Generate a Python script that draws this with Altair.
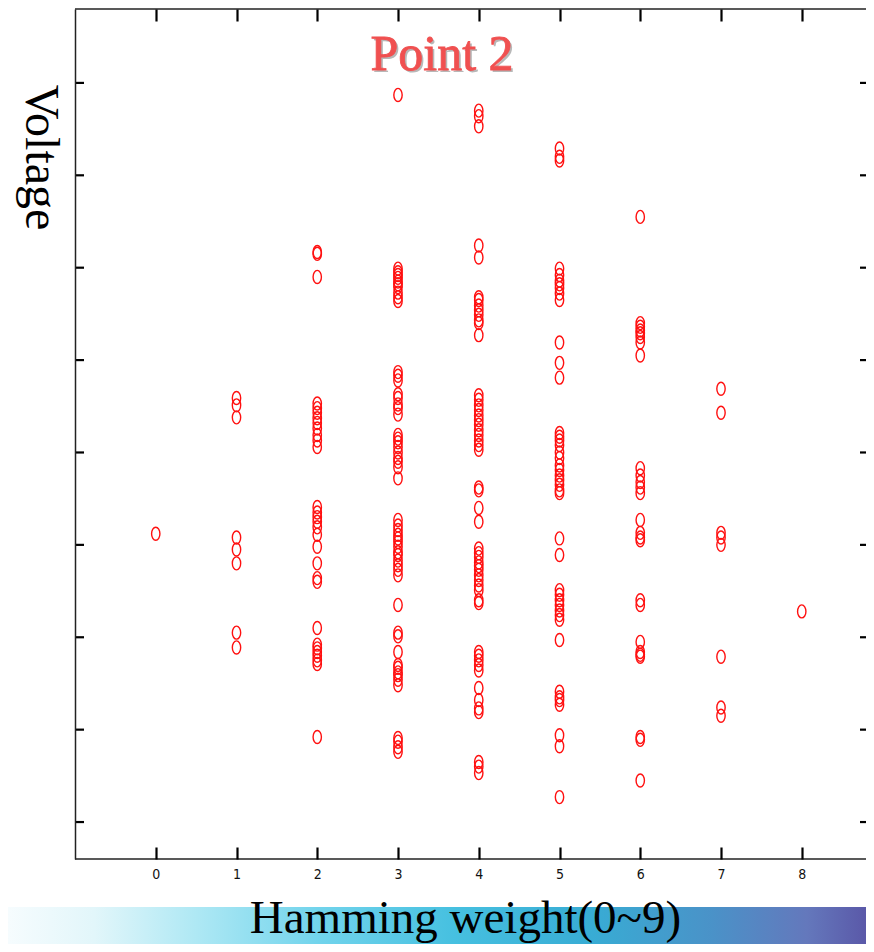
import altair as alt
import pandas as pd

# ---- data ----
title_text = ["Point 2"]
x_title = "Hamming weight(0~9)"
y_title = "Voltage"

x_ticks = [0, 1, 2, 3, 4, 5, 6, 7, 8]
y_ticks = [1, 2, 3, 4, 5, 6, 7, 8, 9]

v0 = [4.12]
v1 = [5.59, 5.51, 5.38, 4.08, 3.95, 3.80, 3.05, 2.89]
v2 = [7.17, 7.15, 6.90, 5.53, 5.48, 5.43, 5.37, 5.32, 5.26, 5.19, 5.13, 5.06,
      4.41, 4.35, 4.30, 4.25, 4.19, 4.11, 3.98, 3.80, 3.64, 3.60,
      3.10, 2.92, 2.88, 2.84, 2.80, 2.75, 2.71, 1.92]
v3 = [8.87, 6.99, 6.95, 6.92, 6.89, 6.85, 6.82, 6.79, 6.73, 6.68, 6.64,
      5.87, 5.83, 5.78, 5.63, 5.59, 5.52, 5.48, 5.41,
      5.19, 5.15, 5.11, 5.06, 5.00, 4.94, 4.90, 4.84, 4.72,
      4.27, 4.21, 4.16, 4.11, 4.07, 4.03, 3.98, 3.92, 3.89, 3.83, 3.78, 3.73, 3.67,
      3.35, 3.05, 3.01, 2.84, 2.70, 2.67, 2.62, 2.59, 2.54, 2.48,
      1.91, 1.87, 1.81, 1.76]
v4 = [8.70, 8.64, 8.53, 7.24, 7.11, 6.68, 6.65, 6.59, 6.54, 6.49, 6.43, 6.40, 6.27,
      5.62, 5.57, 5.51, 5.46, 5.40, 5.35, 5.30, 5.24, 5.19, 5.13, 5.08, 5.03,
      4.62, 4.59, 4.40, 4.25,
      3.96, 3.91, 3.87, 3.81, 3.77, 3.73, 3.67, 3.62, 3.56, 3.51, 3.40, 3.37,
      2.84, 2.80, 2.75, 2.70, 2.64, 2.45, 2.32, 2.23, 2.19, 1.65, 1.60, 1.53]
v5 = [8.29, 8.20, 8.16, 6.99, 6.92, 6.86, 6.82, 6.78, 6.72, 6.65, 6.19, 5.97, 5.81,
      5.21, 5.17, 5.13, 5.08, 5.00, 4.94, 4.86, 4.81, 4.75, 4.70, 4.65, 4.59, 4.56,
      4.07, 3.89, 3.51, 3.46, 3.40, 3.35, 3.29, 3.24, 3.19, 2.97,
      2.41, 2.35, 2.32, 2.27, 1.94, 1.82, 1.27]
v6 = [7.55, 6.40, 6.36, 6.32, 6.29, 6.25, 6.19, 6.05,
      4.83, 4.75, 4.68, 4.62, 4.56, 4.27, 4.13, 4.08, 4.05,
      3.40, 3.35, 2.95, 2.84, 2.81, 2.79, 1.92, 1.89, 1.45]
v7 = [5.69, 5.43, 4.13, 4.08, 4.00, 2.79, 2.24, 2.15]
v8 = [3.28]

columns = [v0, v1, v2, v3, v4, v5, v6, v7, v8]
rows = []
for hw, vals in zip(x_ticks, columns):
    for v in vals:
        rows.append({"hw": hw, "voltage": v})
df = pd.DataFrame(rows)

W, H = 791, 850
X_DOM = [-1, -1 + W / 80.75]
Y_DOM = [0.6, 9.8]
x_scale = alt.Scale(domain=X_DOM, nice=False, zero=False)
y_scale = alt.Scale(domain=Y_DOM, nice=False, zero=False)

label_font = "Liberation Sans Narrow, DejaVu Sans Condensed, Arial Narrow, sans-serif"
tick_color = "#000000"

# bottom axis: shifted up 12 px so its ticks point into the plot
x_axis = alt.Axis(orient="bottom", offset=-12, values=x_ticks, ticks=True, tickSize=12,
                  tickWidth=2.2, tickColor=tick_color, grid=False, domain=False,
                  labelFont=label_font, labelFontSize=14,
                  labelColor="#111", labelPadding=8,
                  title=x_title, titleFont="Liberation Serif",
                  titleFontSize=47, titleFontWeight="normal", titleColor="#000",
                  titleX=390, titleY=85, titleBaseline="alphabetic",
                  titleAlign="center", zindex=2)
# top axis: shifted down 12 px so its ticks point into the plot
x_axis_top = alt.Axis(orient="top", offset=-12, values=x_ticks, ticks=True, tickSize=12,
                      tickWidth=2.2, tickColor=tick_color, grid=False, domain=False,
                      labels=False, title=None, zindex=2)
y_axis = alt.Axis(values=y_ticks, ticks=False, labels=False, grid=False,
                  domain=True, domainColor="#222", domainWidth=1.5,
                  title=y_title, titleFont="Liberation Serif",
                  titleFontSize=48, titleFontWeight="normal", titleColor="#000",
                  titleAngle=90, titleX=-50, titleY=148,
                  titleBaseline="alphabetic", titleAlign="center", zindex=2)

ellipse = "M-0.64,0 A0.64,1 0 1,0 0.64,0 A0.64,1 0 1,0 -0.64,0 Z"

points = alt.Chart(df).mark_point(
    shape=ellipse, filled=False, color="#ff1010", size=170, strokeWidth=1.4, opacity=1
).encode(
    x=alt.X("hw:Q", scale=x_scale, axis=x_axis),
    y=alt.Y("voltage:Q", scale=y_scale, axis=y_axis),
)

xt = pd.DataFrame({"hw": x_ticks})
yt = pd.DataFrame({"voltage": y_ticks})

top_axis_layer = alt.Chart(xt).mark_point(opacity=0).encode(
    x=alt.X("hw:Q", scale=x_scale, axis=x_axis_top))
left_ticks = alt.Chart(yt).mark_rule(color=tick_color, strokeWidth=2.2).encode(
    y=alt.Y("voltage:Q", scale=y_scale, axis=y_axis), x=alt.value(0), x2=alt.value(9))
right_ticks = alt.Chart(yt).mark_rule(color=tick_color, strokeWidth=2.2).encode(
    y=alt.Y("voltage:Q", scale=y_scale, axis=y_axis), x=alt.value(W - 6), x2=alt.value(W))
frame = pd.DataFrame({"k": [0]})
top_line = alt.Chart(frame).mark_rule(color="#222", strokeWidth=1.5).encode(
    x=alt.value(0), x2=alt.value(W), y=alt.value(0))
bottom_line = alt.Chart(frame).mark_rule(color="#222", strokeWidth=1.5).encode(
    x=alt.value(0), x2=alt.value(W), y=alt.value(H))

band = alt.Chart(frame).mark_rect(
    color=alt.LinearGradient(
        gradient="linear", x1=0, x2=1, y1=0, y2=0,
        stops=[
            alt.GradientStop(offset=0.0, color="#f6fcfe"),
            alt.GradientStop(offset=0.1, color="#e2f6fa"),
            alt.GradientStop(offset=0.22, color="#aee8f4"),
            alt.GradientStop(offset=0.36, color="#72d4ec"),
            alt.GradientStop(offset=0.52, color="#46c0e0"),
            alt.GradientStop(offset=0.68, color="#38acd4"),
            alt.GradientStop(offset=0.82, color="#4a92c8"),
            alt.GradientStop(offset=0.93, color="#6478bc"),
            alt.GradientStop(offset=1.0, color="#5a58a8"),
        ]),
    opacity=1,
).encode(x=alt.value(-67), x2=alt.value(W + 1), y=alt.value(898), y2=alt.value(940))

tdf = pd.DataFrame({"label": title_text})
title_shadow = alt.Chart(tdf).mark_text(
    font="Liberation Serif", fontSize=50, color="#b8b8b8",
    align="center", baseline="alphabetic").encode(
    text="label:N", x=alt.value(369), y=alt.value(63))
title_main = alt.Chart(tdf).mark_text(
    font="Liberation Serif", fontSize=50, color="#f05050", stroke="#f05050",
    strokeWidth=0.8, align="center", baseline="alphabetic").encode(
    text="label:N", x=alt.value(367), y=alt.value(61))

chart = alt.layer(
    band, top_line, bottom_line, left_ticks, right_ticks, top_axis_layer,
    points, title_shadow, title_main
).resolve_axis(x="independent").properties(
    width=W, height=H,
    autosize=alt.AutoSizeParams(type="none"),
    padding={"left": 67, "top": 1, "right": 0, "bottom": 85},
    background="white",
).configure_view(stroke=None)

chart.save("out.html", embed_options={"renderer": "svg", "actions": False})
